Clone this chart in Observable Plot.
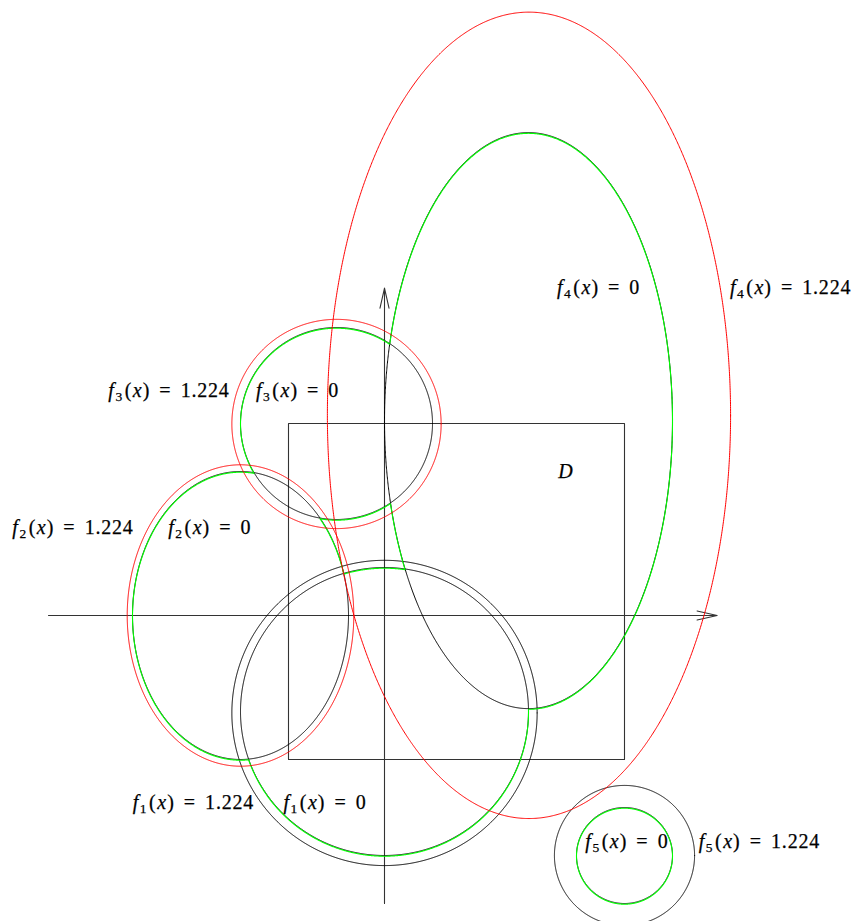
<!DOCTYPE html>
<html><head><meta charset="utf-8">
<script src="https://cdn.jsdelivr.net/npm/d3@7"></script>
<script src="https://cdn.jsdelivr.net/npm/@observablehq/plot@0.6"></script>
<style>body{margin:0;background:#fff}svg{display:block}</style>
</head><body><div id="chart"></div>
<script>
// zero level sets f_i(x) = 0 (ellipses: centre, semi-axes)
const shapeNames = ["f1", "f2", "f3", "f4", "f5"];
const shapeCx = [0, -3, -1, 3, 5];
const shapeCy = [-2, 0, 4, 4.06, -5];
const shapeRx = [3, 2.25, 2, 3, 1];
const shapeRy = [3, 3, 2, 6, 1];
// level sets f_i(x) = 1.224
const levelCx = [0, -3, -1, 3.01, 5];
const levelCy = [-2.03, 0, 3.99, 4.17, -5];
const levelRx = [3.18, 2.36, 2.18, 4.2, 1.46];
const levelRy = [3.18, 3.14, 2.18, 8.4, 1.46];
// domain D
const squareX = [-2, 5];
const squareY = [-3, 4];
// axes extents
const axisX = [-7, 6.93];
const axisY = [-6, 6.82];
// labels
const labelText = ["f3(x) = 1.224", "f3(x) = 0", "f2(x) = 1.224", "f2(x) = 0", "f4(x) = 0", "f4(x) = 1.224", "D", "f1(x) = 1.224", "f1(x) = 0", "f5(x) = 0", "f5(x) = 1.224"];
const labelX = [-4.49, -1.81, -6.49, -3.64, 4.46, 8.46, 3.77, -3.98, -1.24, 5.05, 7.81];
const labelY = [4.69, 4.69, 1.83, 1.83, 6.83, 6.83, 2.99, -3.9, -3.9, -4.71, -4.71];

const N = 1440;
function ellipsePoints(cx, cy, rx, ry, id) {
  return d3.range(N + 1).map(k => {
    const t = 2 * Math.PI * k / N;
    return {x: cx + rx * Math.cos(t), y: cy + ry * Math.sin(t), id};
  });
}
const shapes = shapeNames.map((name, i) => ({name, cx: shapeCx[i], cy: shapeCy[i], rx: shapeRx[i], ry: shapeRy[i]}));
const inside = (s, p) => ((p.x - s.cx) / s.rx) ** 2 + ((p.y - s.cy) / s.ry) ** 2 < 1;

const black = shapes.flatMap((s, i) => ellipsePoints(s.cx, s.cy, s.rx, s.ry, s.name));
const levels = shapeNames.map((name, i) => ellipsePoints(levelCx[i], levelCy[i], levelRx[i], levelRy[i], name));
const levelBlack = levels.filter((_, i) => i === 0 || i === 4).flat();
const levelRed = levels.filter((_, i) => i !== 0 && i !== 4).flat();

// boundary of the union (min_i f_i = 0)
const green = [];
let seg = 0;
shapes.forEach((s, i) => {
  let prev = false;
  ellipsePoints(s.cx, s.cy, s.rx, s.ry, s.name).forEach(p => {
    const out = shapes.every((o, j) => j === i || !inside(o, p));
    if (out) { if (!prev) seg++; green.push({x: p.x, y: p.y, seg}); }
    prev = out;
  });
});

const square = [
  {x: squareX[0], y: squareY[0]}, {x: squareX[1], y: squareY[0]},
  {x: squareX[1], y: squareY[1]}, {x: squareX[0], y: squareY[1]},
  {x: squareX[0], y: squareY[0]}
];
const axes = [
  {x1: axisX[0], y1: 0, x2: axisX[1], y2: 0},
  {x1: 0, y1: axisY[0], x2: 0, y2: axisY[1]}
];
const labels = labelText.map((t, i) => ({t, x: labelX[i], y: labelY[i]}));

const W = 855, H = 921, U = 48, OX = 384, OY = 615;
const svg = Plot.plot({
  width: W, height: H,
  margin: 0,
  x: {domain: [-OX / U, (W - OX) / U], axis: null},
  y: {domain: [(OY - H) / U, OY / U], axis: null},
  marks: [
    Plot.line(square, {x: "x", y: "y", stroke: "#333", strokeWidth: 1.1}),
    Plot.arrow(axes, {x1: "x1", y1: "y1", x2: "x2", y2: "y2", stroke: "#333", strokeWidth: 1.1, headLength: 28, headAngle: 25.4}),
    Plot.line(black, {x: "x", y: "y", z: "id", stroke: "black", strokeWidth: 1}),
    Plot.line(levelBlack, {x: "x", y: "y", z: "id", stroke: "black", strokeWidth: 1}),
    Plot.line(green, {x: "x", y: "y", z: "seg", stroke: "#00ff00", strokeWidth: 1.1, dy: 0.7}),
    Plot.line(levelRed, {x: "x", y: "y", z: "id", stroke: "#ff0000", strokeWidth: 1}),
    Plot.text(labels, {x: "x", y: "y", text: "t", fontSize: 20, fontFamily: "'Liberation Serif', serif", fill: "black", stroke: "black", strokeWidth: 0.25})
  ]
});

// typeset labels as math: italic f and x, subscript index
d3.select(svg).selectAll("g[aria-label='text'] text").each(function () {
  const s = this.textContent;
  const el = d3.select(this);
  el.text(null);
  const m = s.match(/^f(\d)\(x\) = (.*)$/);
  if (!m) { el.append("tspan").attr("font-style", "italic").text(s); return; }
  el.append("tspan").attr("font-style", "italic").text("f");
  el.append("tspan").attr("font-size", 13.5).attr("dy", 4).attr("dx", 1.5).text(m[1]);
  el.append("tspan").attr("dy", -4).attr("dx", 2.5).text("(");
  el.append("tspan").attr("font-style", "italic").attr("dx", 1.5).text("x");
  el.append("tspan").attr("dx", 1).text(")");
  el.append("tspan").attr("dx", 10).text("=");
  el.append("tspan").attr("dx", 10).attr("letter-spacing", 0.8).text(m[2]);
});

document.getElementById("chart").appendChild(svg);
</script>
</body></html>
